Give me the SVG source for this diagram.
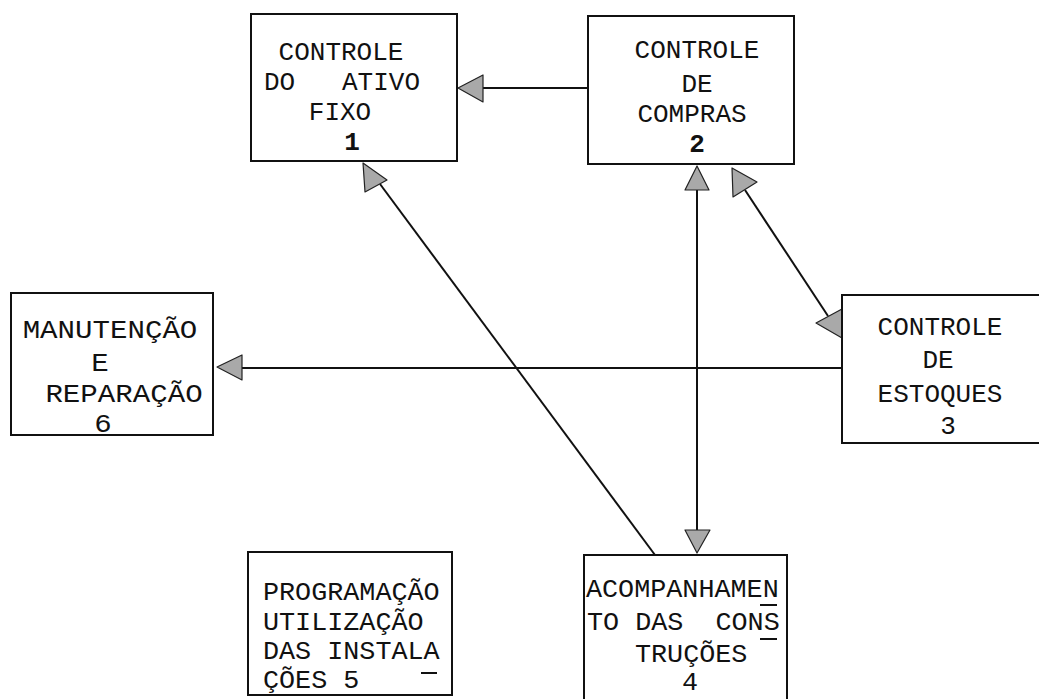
<svg xmlns="http://www.w3.org/2000/svg" width="1039" height="699" viewBox="0 0 1039 699">
<style>
.box{fill:#fff;stroke:#111;stroke-width:2}
.t{font-family:"Liberation Mono","DejaVu Sans Mono",monospace;font-size:26px;fill:#111;white-space:pre}
.m{text-anchor:middle}
.ln{stroke:#111;stroke-width:2;fill:none}
.ah{fill:#a9a9a9;stroke:#222;stroke-width:1.2;stroke-linejoin:round}
</style>
<rect width="1039" height="699" fill="#fff"/>
<g id="connectors">
<line class="ln" x1="588" y1="88" x2="482" y2="88"/>
<polygon class="ah" points="458,88 483,75 483,102"/>
<line class="ln" x1="655" y1="555" x2="380" y2="184"/>
<polygon class="ah" points="363,163 365,192 387,180"/>
<line class="ln" x1="697" y1="190" x2="697" y2="530"/>
<polygon class="ah" points="697,166 685,190 709,190"/>
<polygon class="ah" points="697,553 685,530 710,530"/>
<line class="ln" x1="745" y1="190" x2="828" y2="316"/>
<polygon class="ah" points="732,168 733,197 757,182"/>
<polygon class="ah" points="816,323 842,309 842,338"/>
<line class="ln" x1="842" y1="368" x2="242" y2="368"/>
<polygon class="ah" points="217,367 242,355 242,380"/>
</g>
<g id="node1">
<rect class="box" x="251" y="14" width="206" height="147"/>
<text class="t m" x="341" y="60">CONTROLE</text>
<text class="t m" x="342" y="90">DO   ATIVO</text>
<text class="t m" x="340" y="120">FIXO</text>
<text class="t m" x="352" y="150" font-weight="bold">1</text>
</g>
<g id="node2">
<rect class="box" x="588" y="16" width="206" height="148"/>
<text class="t m" x="697" y="58">CONTROLE</text>
<text class="t m" x="697" y="92">DE</text>
<text class="t m" x="692" y="122">COMPRAS</text>
<text class="t m" x="697" y="152" font-weight="bold">2</text>
</g>
<g id="node3">
<rect class="box" x="842" y="295" width="210" height="148"/>
<text class="t m" x="940" y="335">CONTROLE</text>
<text class="t m" x="938" y="368">DE</text>
<text class="t m" x="940" y="402">ESTOQUES</text>
<text class="t m" x="948" y="434">3</text>
</g>
<g id="node6">
<rect class="box" x="11" y="293" width="202" height="142"/>
<text class="t m" transform="translate(110,338) scale(1.12,1)">MANUTENÇÃO</text>
<text class="t m" transform="translate(100,371) scale(1.12,1)">E</text>
<text class="t m" transform="translate(124,402) scale(1.12,1)">REPARAÇÃO</text>
<text class="t m" transform="translate(103,432) scale(1.12,1)">6</text>
</g>
<g id="node5">
<rect class="box" x="248" y="552" width="204" height="143"/>
<text class="t" transform="translate(263,600) scale(1.03,1)">PROGRAMAÇÃO</text>
<text class="t" transform="translate(263,630) scale(1.03,1)">UTILIZAÇÃO</text>
<text class="t" transform="translate(263,659) scale(1.03,1)">DAS INSTALA</text>
<text class="t" transform="translate(263,688) scale(1.03,1)">ÇÕES 5</text>
<line class="ln" x1="421" y1="673" x2="437" y2="673"/>
</g>
<g id="node4">
<rect class="box" x="584" y="555" width="203" height="160"/>
<text class="t" transform="translate(586,597) scale(1.03,1)">ACOMPANHAMEN</text>
<text class="t" transform="translate(587,630) scale(1.03,1)">TO DAS  CONS</text>
<line class="ln" x1="760" y1="605" x2="777" y2="605"/>
<text class="t" transform="translate(635,662) scale(1.03,1)">TRUÇÕES</text>
<line class="ln" x1="760" y1="639" x2="777" y2="639"/>
<text class="t m" transform="translate(690,690) scale(1.03,1)">4</text>
</g>
</svg>
